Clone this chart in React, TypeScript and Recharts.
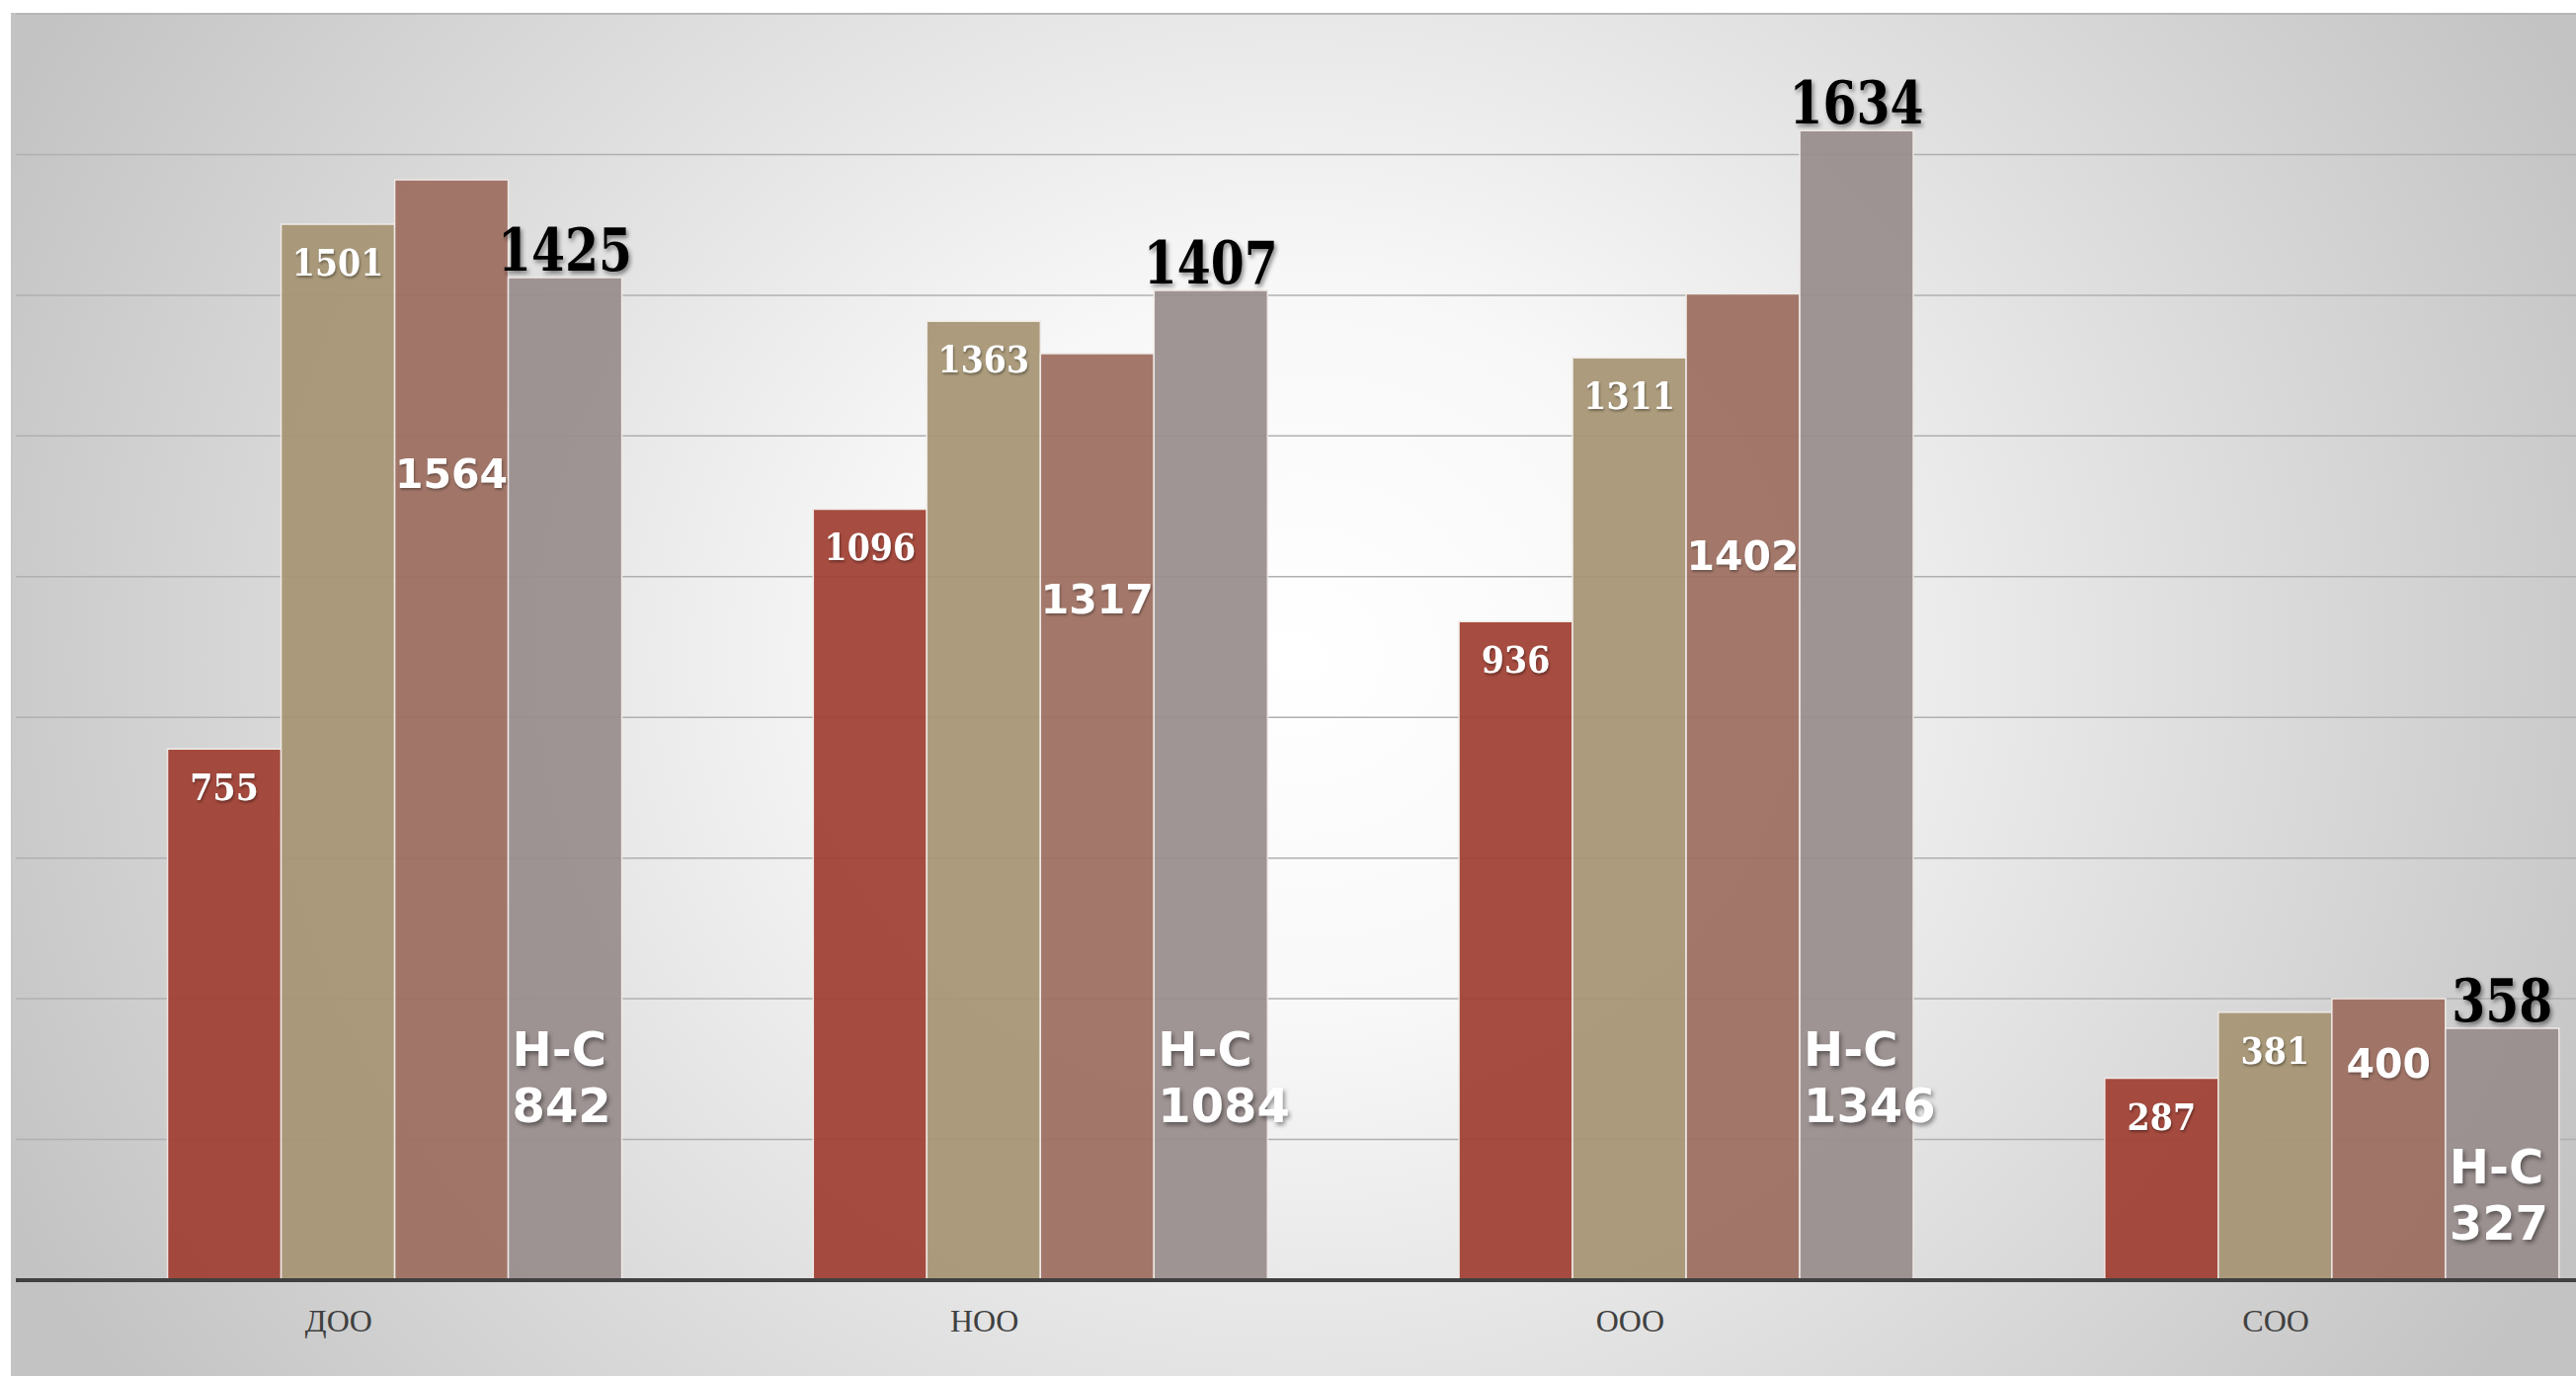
import React from "react";
import { BarChart, Bar, XAxis, YAxis, CartesianGrid, LabelList } from "recharts";

// categories and values
const categories = ["ДОО", "НОО", "ООО", "СОО"];
const series1 = [755, 1096, 936, 287];
const series2 = [1501, 1363, 1311, 381];
const series3 = [1564, 1317, 1402, 400];
const series4 = [1425, 1407, 1634, 358];
const nsValues = [842, 1084, 1346, 327];
const yTicks = [0, 200, 400, 600, 800, 1000, 1200, 1400, 1600, 1800];

const data = categories.map((name, i) => ({
  name,
  s1: series1[i],
  s2: series2[i],
  s3: series3[i],
  s4: series4[i],
  ns: nsValues[i],
}));

// label props come either flat or inside viewBox
const box = (p: any) => {
  const v = p.viewBox && p.viewBox.width != null ? p.viewBox : p;
  return { x: Number(v.x), y: Number(v.y), w: Number(v.width), h: Number(v.height) };
};

const SlabLabel = (p: any) => {
  const { x, y, w } = box(p);
  return (
    <text
      x={x + w / 2}
      y={y + 52}
      textAnchor="middle"
      fill="#fff"
      fontFamily="'DejaVu Serif Condensed', 'DejaVu Serif', serif"
      fontWeight="bold"
      fontSize={37}
      style={{ filter: "drop-shadow(1px 2px 1px rgba(0,0,0,0.35))" }}
    >
      {p.value}
    </text>
  );
};

const SansLabel = (p: any) => {
  const { x, y, w, h } = box(p);
  return (
    <text
      x={x + w / 2}
      y={y + h * 0.28}
      textAnchor="middle"
      fill="#fff"
      fontFamily="'DejaVu Sans', sans-serif"
      fontWeight="bold"
      fontSize={41}
      style={{ filter: "drop-shadow(1px 2px 1px rgba(0,0,0,0.3))" }}
    >
      {p.value}
    </text>
  );
};

const TopLabel = (p: any) => {
  const { x, y, w } = box(p);
  const s = String(p.value);
  return (
    <text
      x={x + w / 2}
      y={y - 7}
      textAnchor="middle"
      fill="#000"
      fontFamily="'DejaVu Serif', serif"
      fontWeight="bold"
      fontSize={60}
      textLength={s.length * 34}
      lengthAdjust="spacingAndGlyphs"
      style={{ filter: "drop-shadow(2px 3px 2px rgba(0,0,0,0.45))" }}
    >
      {s}
    </text>
  );
};

const NsLabel = (p: any) => {
  const { x, y, w, h } = box(p);
  const base = y + h - Math.min(h * 0.16, 160);
  return (
    <text
      x={x + 4}
      textAnchor="start"
      fill="#fff"
      fontFamily="'DejaVu Sans', sans-serif"
      fontWeight="bold"
      fontSize={48}
      style={{ filter: "drop-shadow(2px 3px 2px rgba(0,0,0,0.4))" }}
    >
      <tspan x={x + 4} y={base - 57}>Н-С</tspan>
      <tspan x={x + 4} y={base}>{p.value}</tspan>
    </text>
  );
};

const CategoryTick = (p: any) => (
  <text
    x={p.x}
    y={p.y + 52}
    textAnchor="middle"
    fill="#404040"
    fontFamily="'Liberation Serif', serif"
    fontSize={32}
  >
    {p.payload.value}
  </text>
);

const barStroke = "#efe9e6";

export default function App() {
  return (
    <div
      style={{
        position: "absolute",
        left: 0,
        top: 0,
        width: 2608,
        height: 1393,
        overflow: "hidden",
        background: "#fff",
      }}
    >
      <div
        style={{
          position: "absolute",
          left: 11,
          top: 13,
          right: 0,
          bottom: 0,
          borderTop: "1px solid #c4c4c4",
          borderLeft: "1px solid #c4c4c4",
          background:
            "radial-gradient(ellipse 1450px 1300px at 1300px 650px, #ffffff 0%, #f8f8f8 28%, #c3c3c3 100%)",
        }}
      />
      <div style={{ position: "absolute", left: 0, top: 0 }}>
        <BarChart
          width={2640}
          height={1393}
          data={data}
          margin={{ top: 14, right: 9, bottom: 0, left: 16 }}
          barCategoryGap="5.9%"
          barGap={0}
        >
          <CartesianGrid vertical={false} stroke="#b0b0b0" strokeWidth={1.5} />
          <XAxis
            dataKey="name"
            height={97}
            interval={0}
            tickLine={false}
            tickSize={0}
            tickMargin={0}
            axisLine={{ stroke: "#404040", strokeWidth: 4 }}
            tick={CategoryTick}
          />
          <YAxis hide type="number" domain={[0, 1800]} ticks={yTicks} interval={0} />
          {/* empty slot that shifts the groups to the right, as in the original */}
          <Bar dataKey="spacer" fill="none" isAnimationActive={false} />
          <Bar dataKey="s1" fill="#9f3e32" fillOpacity={0.93} stroke={barStroke} strokeWidth={1.5} isAnimationActive={false}>
            <LabelList dataKey="s1" content={SlabLabel} />
          </Bar>
          <Bar dataKey="s2" fill="#a69473" fillOpacity={0.93} stroke={barStroke} strokeWidth={1.5} isAnimationActive={false}>
            <LabelList dataKey="s2" content={SlabLabel} />
          </Bar>
          <Bar dataKey="s3" fill="#9c6e60" fillOpacity={0.93} stroke={barStroke} strokeWidth={1.5} isAnimationActive={false}>
            <LabelList dataKey="s3" content={SansLabel} />
          </Bar>
          <Bar dataKey="s4" fill="#998d8d" fillOpacity={0.93} stroke={barStroke} strokeWidth={1.5} isAnimationActive={false}>
            <LabelList dataKey="s4" content={TopLabel} />
            <LabelList dataKey="ns" content={NsLabel} />
          </Bar>
        </BarChart>
      </div>
    </div>
  );
}
